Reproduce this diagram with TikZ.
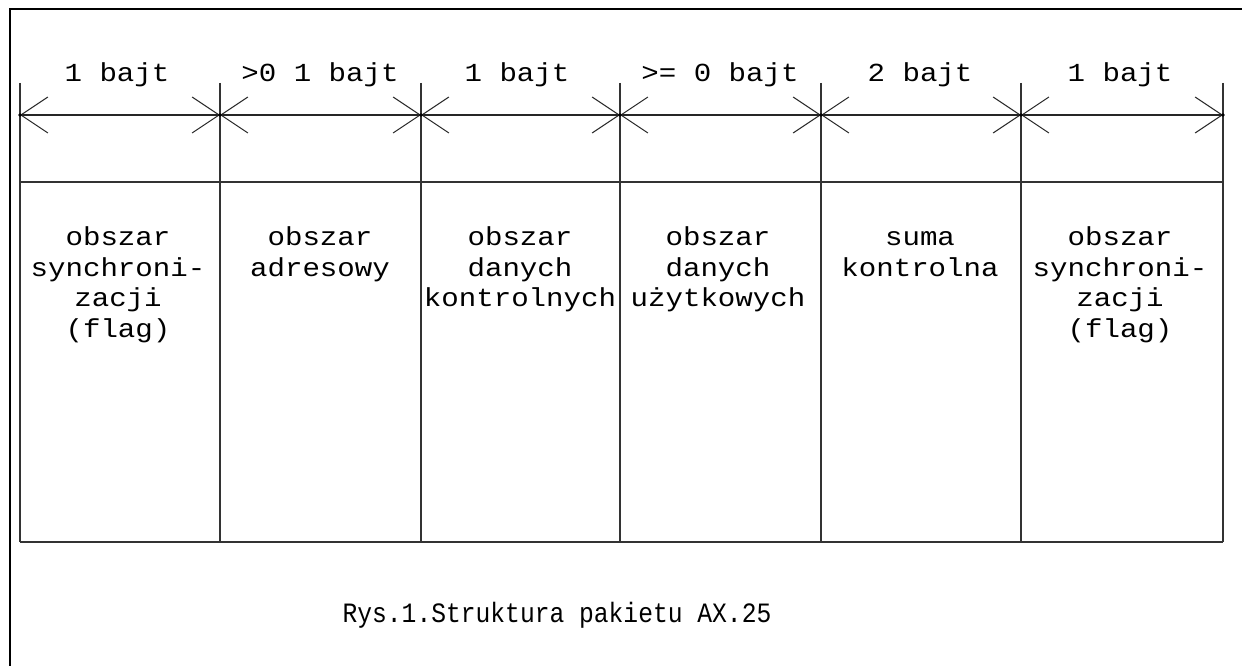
\documentclass[tikz,border=0pt]{standalone}
\usepackage{fontspec}
\setmainfont{Liberation Mono}[FakeStretch=1.12]
\newfontfamily\capfont{Liberation Mono}[FakeStretch=0.88]
\usetikzlibrary{arrows.meta}
\newcommand\cellstack[1]{\vtop{\baselineskip=22.8pt\halign{\hfil##\hfil\cr#1\crcr}}}
\begin{document}
\begin{tikzpicture}[x=0.75pt,y=-0.75pt,
  frame/.style={line width=1.9pt,black},
  grid/.style={line width=1.3pt,black!80},
  barb/.tip={Straight Barb[length=20.25pt,width=27pt,line width=0.75pt]},
  dimline/.style={line width=1.1pt,black!85,barb-barb},
  lbl/.style={anchor=base,inner sep=0pt,font=\fontsize{19.5}{22.8}\selectfont},
  body/.style={anchor=base,inner sep=0pt,font=\fontsize{19.5}{22.8}\selectfont},
  captxt/.style={anchor=base,inner sep=0pt,font=\capfont\fontsize{21}{25}\selectfont}]
\useasboundingbox (0,0) rectangle (1242,666);
\fill[white] (0,0) rectangle (1242,666);
% frame
\draw[frame] (10,670) -- (10,9) -- (1246,9);
% table
\foreach \x [count=\i from 0] in {20,220,421,620,821,1021,1223}{
  \coordinate (d\i) at (\x,115);
  \draw[grid] (\x,83) -- (\x,542);
}
\draw[grid] (20,182) -- (1223,182);
\draw[grid] (20,542) -- (1223,542);
% dimension lines
\foreach \a/\b in {0/1,1/2,2/3,3/4,4/5,5/6}{
  \draw[dimline] (d\a) -- (d\b);
}
\foreach \i in {0,...,6}{ \fill (d\i) circle (1.8); }
% labels
\node[lbl] (l1) at (117,82) {1 bajt};
\node[lbl] (l2) at (320,82) {>0 1 bajt};
\node[lbl] (l3) at (517,82) {1 bajt};
\node[lbl] (l4) at (720,82) {>= 0 bajt};
\node[lbl] (l5) at (920,82) {2 bajt};
\node[lbl] (l6) at (1120,82) {1 bajt};
% body
\node[body] (t1) at (118,246) {\cellstack{obszar\cr synchroni-\cr zacji\cr (flag)}};
\node[body] (t2) at (320,246) {\cellstack{obszar\cr adresowy}};
\node[body] (t3) at (520,246) {\cellstack{obszar\cr danych\cr kontrolnych}};
\node[body] (t4) at (718,246) {\cellstack{obszar\cr danych\cr użytkowych}};
\node[body] (t5) at (920,246) {\cellstack{suma\cr kontrolna}};
\node[body] (t6) at (1120,246) {\cellstack{obszar\cr synchroni-\cr zacji\cr (flag)}};
% caption
\node[captxt] (cap) at (557,622) {Rys.1.Struktura pakietu AX.25};
\end{tikzpicture}
\end{document}
